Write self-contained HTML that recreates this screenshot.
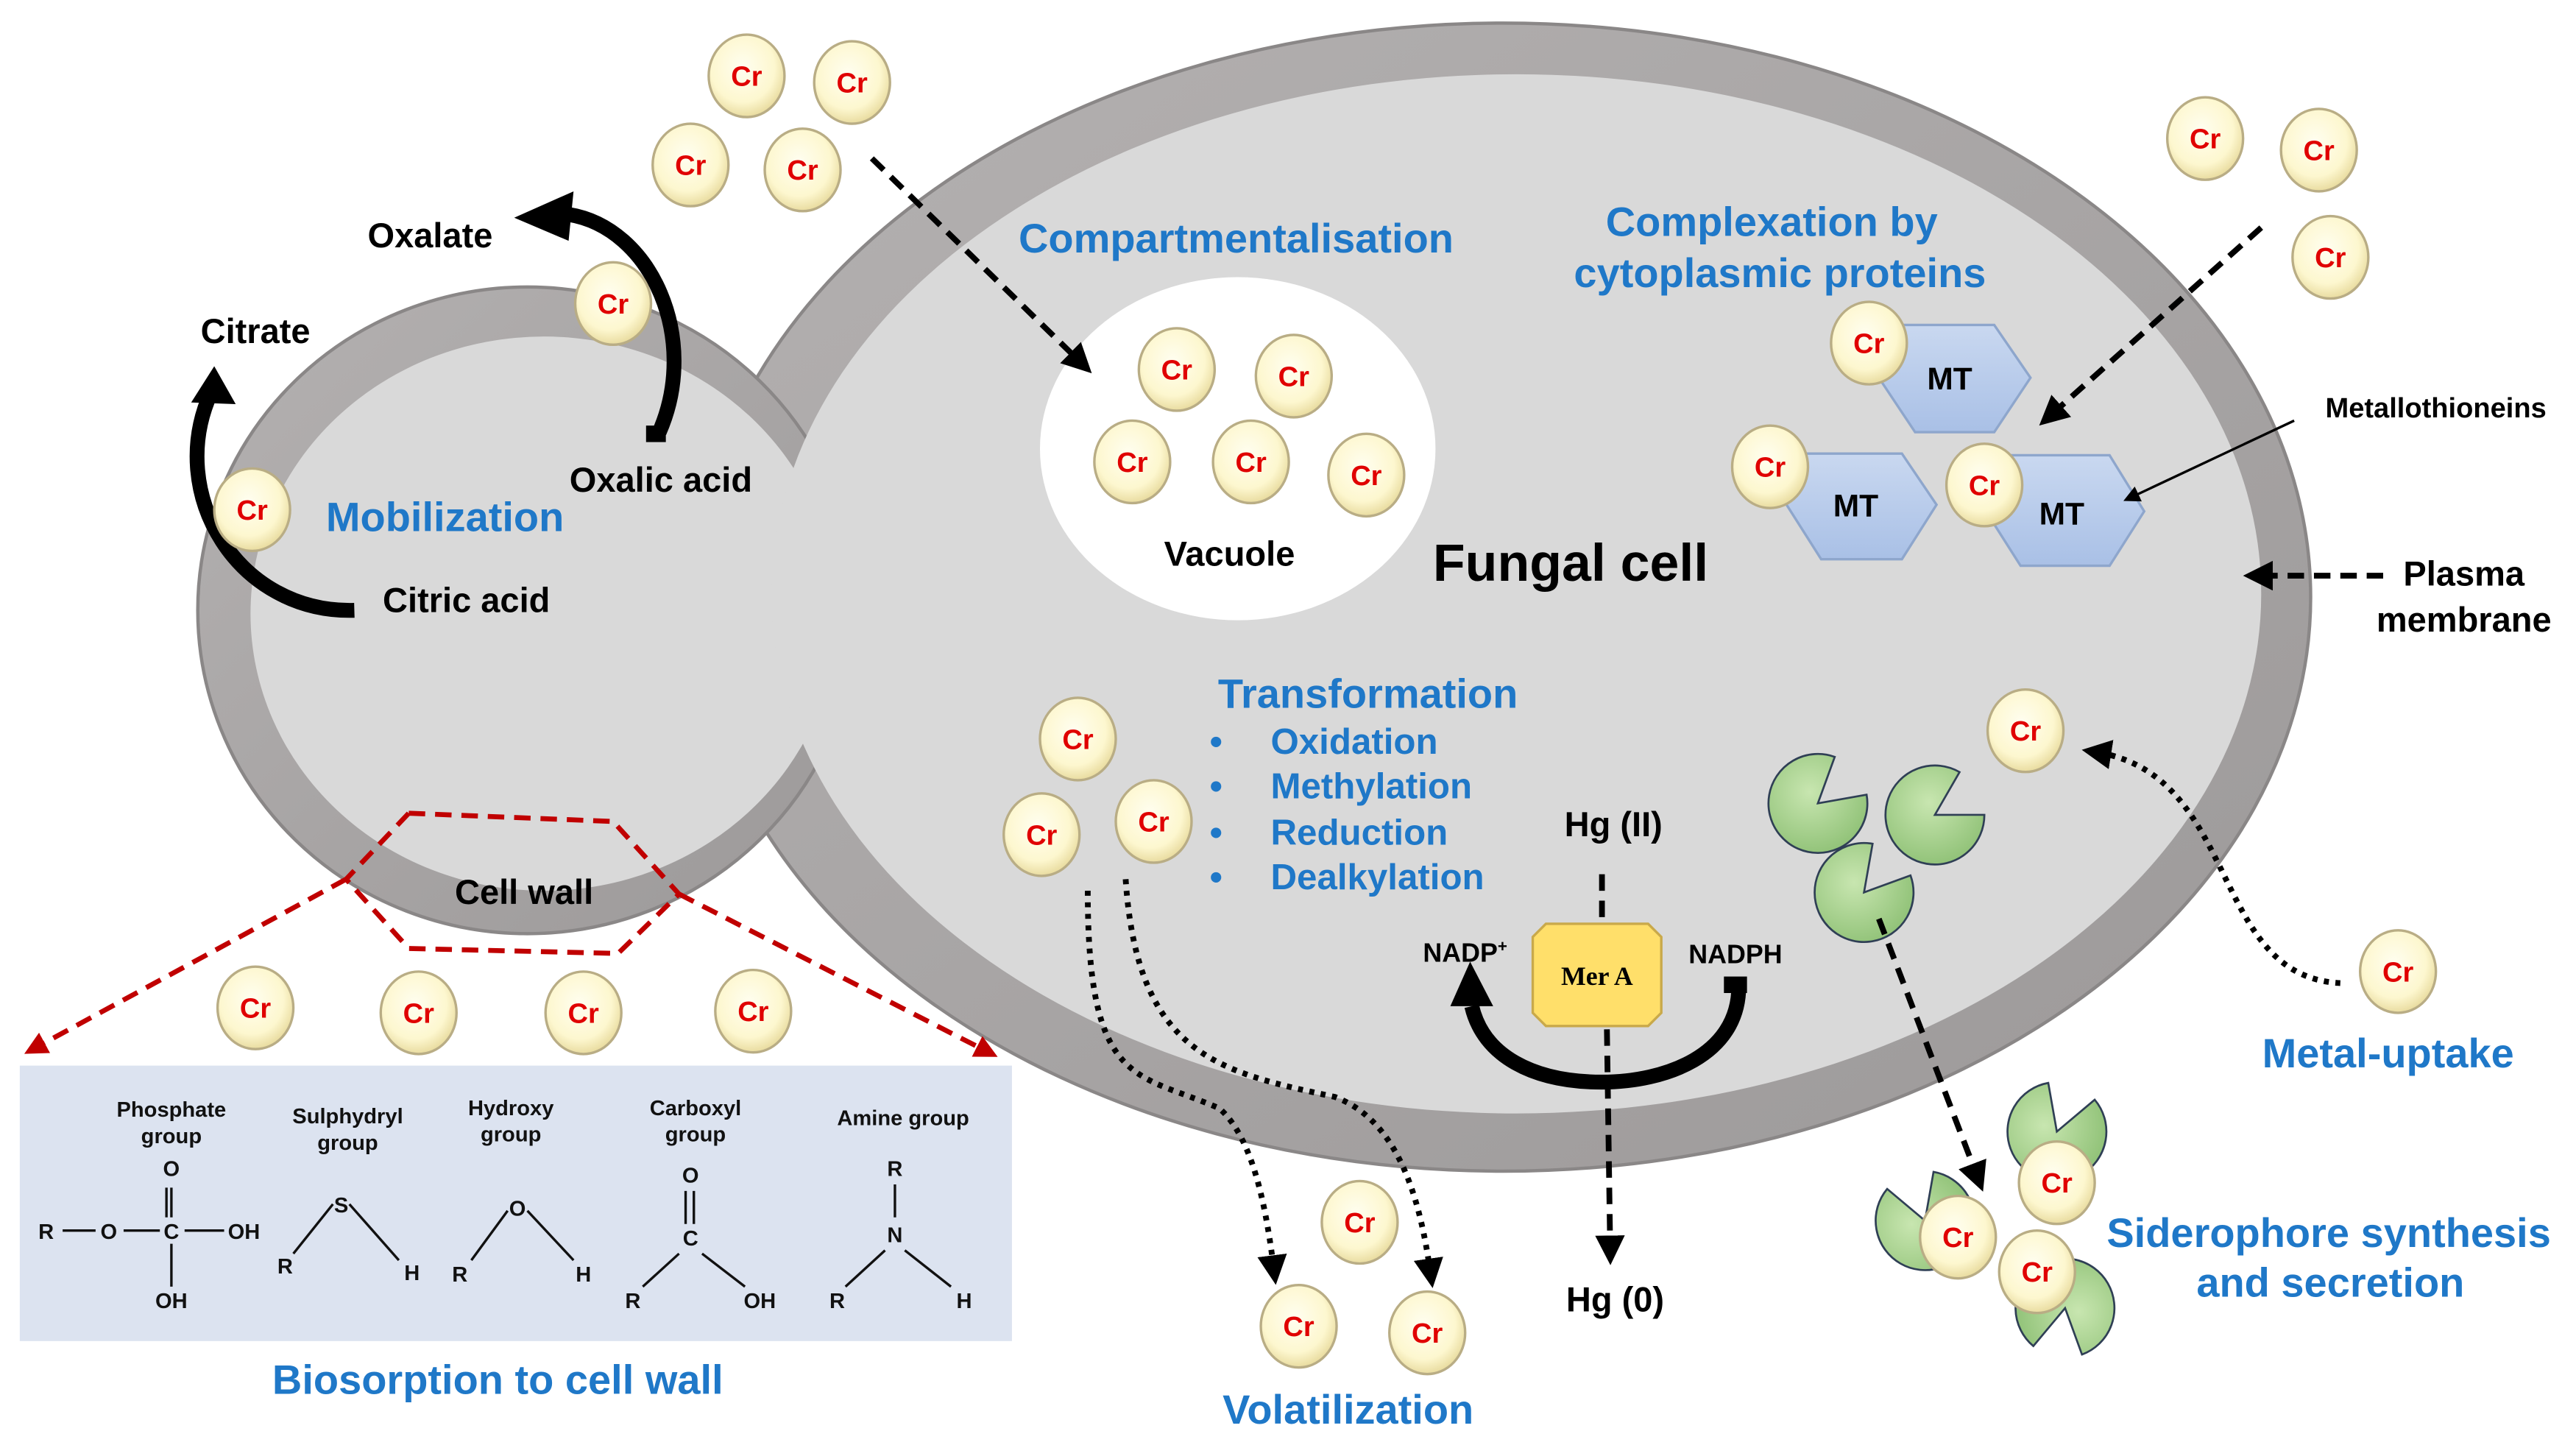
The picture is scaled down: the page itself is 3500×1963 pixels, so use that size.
<!DOCTYPE html>
<html><head><meta charset="utf-8"><style>
html,body{margin:0;padding:0;background:#fff;width:3500px;height:1963px;overflow:hidden}
svg{display:block}
text{font-family:"Liberation Sans",sans-serif;font-weight:bold}
.b{fill:#1f78c8;font-size:25px}
.k{fill:#000;font-size:21px}
.cr{fill:#e00000;font-size:17px;text-anchor:middle}
.s{font-size:13px;fill:#111}
</style></head><body>
<svg width="3500" height="1963" viewBox="0 0 1563 876" preserveAspectRatio="none" xmlns="http://www.w3.org/2000/svg">
<defs>
<radialGradient id="bead" cx="45%" cy="40%" r="60%"><stop offset="0" stop-color="#fffef0"/><stop offset="0.7" stop-color="#fdf7cf"/><stop offset="1" stop-color="#e9dca0"/></radialGradient>
<linearGradient id="ring" x1="0" y1="0" x2="1" y2="1"><stop offset="0" stop-color="#b4b1b1"/><stop offset="1" stop-color="#9c9999"/></linearGradient>
<linearGradient id="hex" x1="0" y1="0" x2="0" y2="1"><stop offset="0" stop-color="#c9d8f0"/><stop offset="1" stop-color="#a9c0e6"/></linearGradient>
<radialGradient id="grn" cx="40%" cy="40%" r="70%"><stop offset="0" stop-color="#c8e6b0"/><stop offset="1" stop-color="#8cbf73"/></radialGradient>
<marker id="ah" markerWidth="10" markerHeight="10" refX="6" refY="5" orient="auto" markerUnits="userSpaceOnUse"><path d="M0,0 L10,5 L0,10 Z" fill="#000"/></marker>
<marker id="ahr" markerWidth="14" markerHeight="14" refX="8" refY="7" orient="auto" markerUnits="userSpaceOnUse"><path d="M0,0 L14,7 L0,14 Z" fill="#c00000"/></marker>
<marker id="ahb" markerWidth="18" markerHeight="18" refX="9" refY="9" orient="auto" markerUnits="userSpaceOnUse"><path d="M0,0 L18,9 L0,18 Z" fill="#000"/></marker>
</defs>

<!-- cells -->
<ellipse cx="912" cy="362" rx="490" ry="348" fill="url(#ring)" stroke="#8a8787" stroke-width="2"/>
<ellipse cx="320" cy="370" rx="200" ry="196" fill="url(#ring)" stroke="#8a8787" stroke-width="2"/>
<ellipse cx="330" cy="372" rx="178" ry="168" fill="#d9d9d9"/>
<ellipse cx="920" cy="360" rx="452" ry="315" fill="#d9d9d9"/>
<ellipse cx="751" cy="272" rx="120" ry="104" fill="#fff"/>

<!-- red dashed biosorption -->
<g stroke="#c00000" stroke-width="3" stroke-dasharray="10,6" fill="none">
<path d="M248,493 L372,498 L412,542 L375,578 L248,575 L210,533 Z"/>
<path d="M210,533 L20,636" marker-end="url(#ahr)"/>
<path d="M412,542 L600,638" marker-end="url(#ahr)"/>
</g>

<!-- bottom box -->
<rect x="12" y="646" width="602" height="167" fill="#dce3f0"/>
<g class="s" text-anchor="middle">
<text x="104" y="677">Phosphate</text><text x="104" y="693">group</text>
<text x="211" y="681">Sulphydryl</text><text x="211" y="697">group</text>
<text x="310" y="676">Hydroxy</text><text x="310" y="692">group</text>
<text x="422" y="676">Carboxyl</text><text x="422" y="692">group</text>
<text x="548" y="682">Amine group</text>
<text x="28" y="751">R</text><text x="66" y="751">O</text><text x="104" y="751">C</text><text x="148" y="751">OH</text>
<text x="104" y="713">O</text><text x="104" y="793">OH</text>
<text x="207" y="735">S</text><text x="173" y="772">R</text><text x="250" y="776">H</text>
<text x="314" y="737">O</text><text x="279" y="777">R</text><text x="354" y="777">H</text>
<text x="419" y="717">O</text><text x="419" y="755">C</text><text x="384" y="793">R</text><text x="461" y="793">OH</text>
<text x="543" y="713">R</text><text x="543" y="753">N</text><text x="508" y="793">R</text><text x="585" y="793">H</text>
</g>
<g stroke="#111" stroke-width="1.5" fill="none">
<path d="M38,746 H58 M75,746 H97 M112,746 H136 M104,720 V738 M101,720 V738 M104,754 V780"/>
<path d="M178,760 L202,730 M212,730 L242,764"/>
<path d="M286,764 L308,734 M320,734 L348,764"/>
<path d="M416,722 V742 M421,722 V742 M412,760 L390,780 M426,760 L452,780"/>
<path d="M543,718 V738 M537,758 L513,780 M549,758 L577,780"/>
</g>

<!-- MT hexagons -->
<g stroke="#8ea6cc" stroke-width="1.5" fill="url(#hex)">
<path d="M1150,197 L1210,197 L1232,229 L1210,262 L1162,262 L1140,229 Z"/>
<path d="M1096,275 L1154,275 L1175,306 L1154,339 L1105,339 L1084,306 Z"/>
<path d="M1218,276 L1280,276 L1301,310 L1280,343 L1226,343 L1205,310 Z"/>
</g>
<g font-size="19" text-anchor="middle"><text x="1183" y="236">MT</text><text x="1126" y="313">MT</text><text x="1251" y="318">MT</text></g>

<!-- siderophores -->
<g fill="url(#grn)" stroke="#2f3f55" stroke-width="1.2">
<path transform="translate(1103,487) rotate(10)" d="M0,0 L28.2,-10.3 A30,30 0 1 1 5.2,-29.5 Z"/>
<path transform="translate(1174,494) rotate(20)" d="M0,0 L28.2,-10.3 A30,30 0 1 1 5.2,-29.5 Z"/>
<path transform="translate(1131,541) rotate(0)" d="M0,0 L28.2,-10.3 A30,30 0 1 1 5.2,-29.5 Z"/>
<path transform="translate(1248,686) rotate(-20)" d="M0,0 L28.2,-10.3 A30,30 0 1 1 5.2,-29.5 Z"/>
<path transform="translate(1168,740) rotate(-60)" d="M0,0 L28.2,-10.3 A30,30 0 1 1 5.2,-29.5 Z"/>
<path transform="translate(1253,793) rotate(150)" d="M0,0 L28.2,-10.3 A30,30 0 1 1 5.2,-29.5 Z"/>
</g>

<!-- arrows -->
<g stroke="#000" stroke-width="3.5" stroke-dasharray="10,6" fill="none">
<path d="M529,96 L656,220" marker-end="url(#ahb)"/>
<path d="M1372,138 L1244,252" marker-end="url(#ahb)"/>
<path d="M1446,349 L1370,349" marker-end="url(#ahb)"/>
<path d="M972,530 V560"/>
<path d="M975,624 L977,758" marker-end="url(#ahb)"/>
<path d="M1140,557 L1200,714" marker-end="url(#ahb)"/>
</g>
<path d="M1392,255 L1292,302" stroke="#000" stroke-width="1.5" fill="none" marker-end="url(#ah)"/>
<g stroke="#000" stroke-width="3.5" stroke-dasharray="3,4" fill="none">
<path d="M1420,596 C1340,592 1360,470 1272,456" marker-end="url(#ahb)"/>
<path d="M660,540 C660,660 690,650 740,672 C760,690 768,730 773,770" marker-end="url(#ahb)"/>
<path d="M683,533 C690,640 740,650 810,665 C850,680 862,730 868,772" marker-end="url(#ahb)"/>
</g>
<!-- thick curved arrows -->
<g fill="none" stroke="#000" stroke-width="9">
<path d="M400,262 C425,205 395,138 345,130"/>
<path d="M215,370 C145,372 100,300 128,238"/>
<path d="M1055,598 C1055,640 1010,656 972,656 C930,656 900,640 893,610"/>
</g>
<path d="M312,132 L348,116 L345,146 Z" fill="#000"/>
<path d="M130,222 L116,244 L143,245 Z" fill="#000"/>
<path d="M892,583 L880,610 L906,610 Z" fill="#000"/>
<rect x="1046" y="592" width="14" height="10" fill="#000"/>
<rect x="392" y="258" width="12" height="10" fill="#000"/>

<!-- Mer A -->
<path d="M938,560 H1000 L1008,568 V614 L1000,622 H938 L930,614 V568 Z" fill="#ffdf6a" stroke="#c9a94a" stroke-width="1.5"/>
<text x="969" y="597" font-size="16" text-anchor="middle" style="font-family:'Liberation Serif',serif">Mer A</text>

<!-- beads -->
<g stroke="#b9ad85" stroke-width="1.5" fill="url(#bead)">
<ellipse cx="453" cy="46" rx="23" ry="25"/><ellipse cx="517" cy="50" rx="23" ry="25"/><ellipse cx="419" cy="100" rx="23" ry="25"/><ellipse cx="487" cy="103" rx="23" ry="25"/>
<ellipse cx="372" cy="184" rx="23" ry="25"/><ellipse cx="153" cy="309" rx="23" ry="25"/>
<ellipse cx="714" cy="224" rx="23" ry="25"/><ellipse cx="785" cy="228" rx="23" ry="25"/><ellipse cx="687" cy="280" rx="23" ry="25"/><ellipse cx="759" cy="280" rx="23" ry="25"/><ellipse cx="829" cy="288" rx="23" ry="25"/>
<ellipse cx="1338" cy="84" rx="23" ry="25"/><ellipse cx="1407" cy="91" rx="23" ry="25"/><ellipse cx="1414" cy="156" rx="23" ry="25"/>
<ellipse cx="1134" cy="208" rx="23" ry="25"/><ellipse cx="1074" cy="283" rx="23" ry="25"/><ellipse cx="1204" cy="294" rx="23" ry="25"/>
<ellipse cx="1229" cy="443" rx="23" ry="25"/><ellipse cx="1455" cy="589" rx="23" ry="25"/>
<ellipse cx="654" cy="448" rx="23" ry="25"/><ellipse cx="632" cy="506" rx="23" ry="25"/><ellipse cx="700" cy="498" rx="23" ry="25"/>
<ellipse cx="825" cy="741" rx="23" ry="25"/><ellipse cx="788" cy="804" rx="23" ry="25"/><ellipse cx="866" cy="808" rx="23" ry="25"/>
<ellipse cx="155" cy="611" rx="23" ry="25"/><ellipse cx="254" cy="614" rx="23" ry="25"/><ellipse cx="354" cy="614" rx="23" ry="25"/><ellipse cx="457" cy="613" rx="23" ry="25"/>
<ellipse cx="1248" cy="717" rx="23" ry="25"/><ellipse cx="1188" cy="750" rx="23" ry="25"/><ellipse cx="1236" cy="771" rx="23" ry="25"/>
</g>
<g class="cr">
<text x="453" y="52">Cr</text><text x="517" y="56">Cr</text><text x="419" y="106">Cr</text><text x="487" y="109">Cr</text>
<text x="372" y="190">Cr</text><text x="153" y="315">Cr</text>
<text x="714" y="230">Cr</text><text x="785" y="234">Cr</text><text x="687" y="286">Cr</text><text x="759" y="286">Cr</text><text x="829" y="294">Cr</text>
<text x="1338" y="90">Cr</text><text x="1407" y="97">Cr</text><text x="1414" y="162">Cr</text>
<text x="1134" y="214">Cr</text><text x="1074" y="289">Cr</text><text x="1204" y="300">Cr</text>
<text x="1229" y="449">Cr</text><text x="1455" y="595">Cr</text>
<text x="654" y="454">Cr</text><text x="632" y="512">Cr</text><text x="700" y="504">Cr</text>
<text x="825" y="747">Cr</text><text x="788" y="810">Cr</text><text x="866" y="814">Cr</text>
<text x="155" y="617">Cr</text><text x="254" y="620">Cr</text><text x="354" y="620">Cr</text><text x="457" y="619">Cr</text>
<text x="1248" y="723">Cr</text><text x="1188" y="756">Cr</text><text x="1236" y="777">Cr</text>
</g>

<!-- labels -->
<g text-anchor="middle">
<text class="b" x="750" y="153">Compartmentalisation</text>
<text class="b" x="1075" y="143">Complexation by</text>
<text class="b" x="1080" y="174">cytoplasmic proteins</text>
<text x="1478" y="253" font-size="17">Metallothioneins</text>
<text x="953" y="352" font-size="32">Fungal cell</text>
<text class="k" x="746" y="343" font-size="21">Vacuole</text>
<text class="k" x="1495" y="355">Plasma</text>
<text class="k" x="1495" y="383">membrane</text>
<text class="k" x="261" y="150">Oxalate</text>
<text class="k" x="155" y="208">Citrate</text>
<text class="k" x="401" y="298">Oxalic acid</text>
<text class="k" x="283" y="371">Citric acid</text>
<text class="b" x="270" y="322">Mobilization</text>
<text class="k" x="318" y="548">Cell wall</text>
<text class="b" x="830" y="429">Transformation</text>
<text class="k" x="979" y="507">Hg (II)</text>
<text class="k" x="980" y="795">Hg (0)</text>
<text x="889" y="583" font-size="16">NADP<tspan font-size="10" dy="-6">+</tspan></text>
<text x="1053" y="584" font-size="16">NADPH</text>
<text class="b" x="1449" y="647">Metal-uptake</text>
<text class="b" x="1413" y="756">Siderophore synthesis</text>
<text class="b" x="1414" y="786">and secretion</text>
<text class="b" x="818" y="863">Volatilization</text>
<text class="b" x="302" y="845">Biosorption to cell wall</text>
</g>
<g class="b" style="font-size:22px">
<text x="734" y="457">•</text><text x="771" y="457">Oxidation</text>
<text x="734" y="484">•</text><text x="771" y="484">Methylation</text>
<text x="734" y="512">•</text><text x="771" y="512">Reduction</text>
<text x="734" y="539">•</text><text x="771" y="539">Dealkylation</text>
</g>
</svg>
</body></html>
